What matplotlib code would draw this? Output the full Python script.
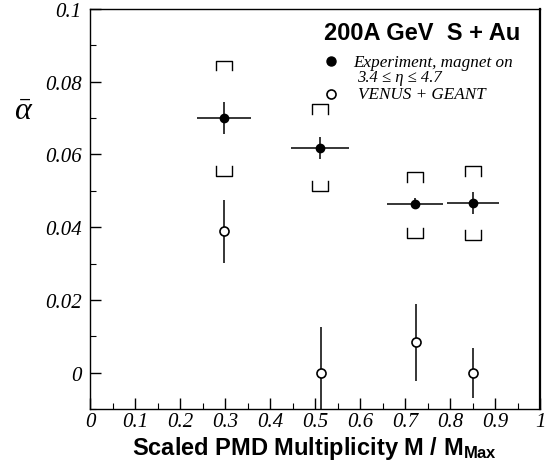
import matplotlib
matplotlib.use("Agg")
import matplotlib.pyplot as plt
from matplotlib.ticker import MultipleLocator, FixedLocator

plt.rcParams['mathtext.fontset'] = 'custom'
plt.rcParams['mathtext.rm'] = 'Liberation Serif'
plt.rcParams['mathtext.it'] = 'Liberation Serif:italic'
plt.rcParams['mathtext.bf'] = 'Liberation Sans:bold'

# Experiment (filled)
x_exp = [0.298, 0.511, 0.722, 0.851]
y_exp = [0.0700, 0.0617, 0.0465, 0.0467]
xerr_exp = [0.060, 0.065, 0.063, 0.057]
yerr_exp = [0.0045, 0.0030, 0.0015, 0.0030]
sys_hi = [0.0858, 0.0738, 0.0552, 0.0567]
sys_lo = [0.0541, 0.0499, 0.0371, 0.0365]

# VENUS + GEANT (open)
x_sim = [0.298, 0.513, 0.724, 0.852]
y_sim = [0.0389, 0.0000, 0.0084, 0.0000]
yerr_sim = [0.0087, 0.0126, 0.0106, 0.0069]

xticks = [0, 0.1, 0.2, 0.3, 0.4, 0.5, 0.6, 0.7, 0.8, 0.9, 1]
xtick_labels = ['0', '0.1', '0.2', '0.3', '0.4', '0.5', '0.6', '0.7', '0.8', '0.9', '1']
yticks = [0, 0.02, 0.04, 0.06, 0.08, 0.1]
ytick_labels = ['0', '0.02', '0.04', '0.06', '0.08', '0.1']

fig = plt.figure(figsize=(5.53, 4.64), dpi=100)
ax = fig.add_axes([90/553, 1-410/464, 450/553, 400/464])
ax.set_xlim(0, 1)
ax.set_ylim(-0.01, 0.1)

lw = 1.1
ax.errorbar(x_exp, y_exp, xerr=xerr_exp, yerr=yerr_exp, fmt='o', color='black',
            ms=6, elinewidth=lw, capsize=0, clip_on=True)
ax.errorbar(x_sim, y_sim, yerr=yerr_sim, fmt='o', color='black', mfc='white',
            mec='black', mew=1.2, ms=6.5, elinewidth=lw, capsize=0)

# systematic brackets
bw = 0.017
bl = 0.0027
for xi, hi, lo in zip(x_exp, sys_hi, sys_lo):
    ax.plot([xi-bw, xi-bw, xi+bw, xi+bw], [hi-bl, hi, hi, hi-bl], color='black', lw=1.0)
    ax.plot([xi-bw, xi-bw, xi+bw, xi+bw], [lo+bl, lo, lo, lo+bl], color='black', lw=1.0)

ax.xaxis.set_major_locator(FixedLocator(xticks))
ax.set_xticklabels(xtick_labels)
ax.xaxis.set_minor_locator(MultipleLocator(0.05))
ax.yaxis.set_major_locator(FixedLocator(yticks))
ax.set_yticklabels(ytick_labels)
ax.yaxis.set_minor_locator(MultipleLocator(0.01))
ax.tick_params(which='both', direction='in', top=False, right=False)
ax.tick_params(which='major', length=8, width=1.0)
ax.tick_params(which='minor', length=4, width=0.8)
ax.tick_params(axis='x', which='major', pad=2)
ax.tick_params(axis='y', which='major', pad=6)
for lab in ax.get_xticklabels() + ax.get_yticklabels():
    lab.set_fontfamily('Liberation Serif')
    lab.set_fontstyle('italic')
    lab.set_fontsize(15)
for s in ['left', 'bottom', 'top']:
    ax.spines[s].set_linewidth(1.0)
ax.spines['right'].set_linewidth(1.6)

ax.set_xlabel('Scaled PMD Multiplicity M / $\\mathbf{M_{Max}}$', fontfamily='Liberation Sans',
              fontweight='bold', fontsize=17, labelpad=2)
fig.text(24/553, 1-112/464, '$\\bar{\\alpha}$', fontsize=23, ha='center', va='center')

# legend
ax.text(0.956, 0.925, '200A GeV  S + Au', transform=ax.transAxes, ha='right', va='baseline',
        fontfamily='Liberation Sans', fontweight='bold', fontsize=17)
ax.plot([0.535], [0.871], 'o', color='black', ms=6.5, transform=ax.transAxes)
ax.plot([0.535], [0.7875], 'o', mfc='white', mec='black', mew=1.2, ms=6.5, transform=ax.transAxes)
serif = ['Liberation Serif', 'DejaVu Serif']
ax.text(0.584, 0.858, 'Experiment, magnet on', transform=ax.transAxes, va='baseline',
        fontfamily=serif, fontstyle='italic', fontsize=12.3)
ax.text(0.593, 0.8205, '3.4 \u2264 \u03b7 \u2264 4.7', transform=ax.transAxes, va='baseline',
        fontfamily=serif, fontstyle='italic', fontsize=12)
ax.text(0.596, 0.7775, 'VENUS + GEANT', transform=ax.transAxes, va='baseline',
        fontfamily=serif, fontstyle='italic', fontsize=12.3)

fig.savefig('out.png', dpi=100)
